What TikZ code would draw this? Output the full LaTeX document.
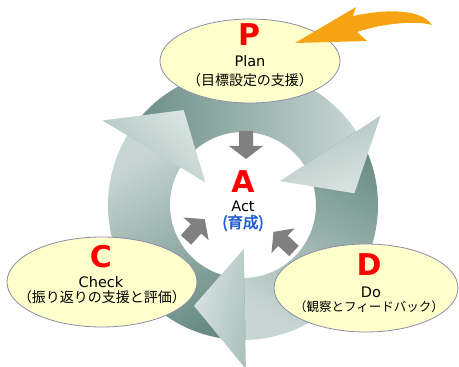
\documentclass[tikz,border=0pt]{standalone}
\usepackage{fontspec}
\setmainfont{DejaVu Sans}
\newfontfamily\jp{Noto Sans CJK JP}
\newfontfamily\jpbold[FakeBold=2.5]{Noto Sans CJK JP}
\usetikzlibrary{shapes.geometric}

\definecolor{ringdark}{RGB}{104,140,131}
\definecolor{ringlight}{RGB}{200,214,211}
\definecolor{headdark}{RGB}{172,194,189}
\definecolor{headlight}{RGB}{218,228,225}
\definecolor{arrowgray}{RGB}{128,128,128}
\definecolor{ellfill}{RGB}{255,255,204}
\definecolor{elledge}{RGB}{140,140,170}
\definecolor{swoosh}{RGB}{247,164,20}
\definecolor{actblue}{RGB}{30,90,210}

\tikzset{
  phase/.style={ellipse, draw=elledge, fill=ellfill, line width=0.8pt, inner sep=0pt},
  letter/.style={text=red, inner sep=1pt, font=\fontsize{30}{30}\selectfont\bfseries},
  eng/.style={inner sep=1pt, font=\fontsize{14.5}{16}\selectfont},
  jtext/.style={inner sep=1pt, font=\jp\fontsize{14}{16}\selectfont},
  inarrow/.pic={
    \fill[arrowgray] (0,-7) -- (15,-7) -- (15,-17) -- (28,0) -- (15,17)
      -- (15,7) -- (0,7) -- cycle;
  }
}

\begin{document}
\begin{tikzpicture}[x=1pt,y=1pt]
  \useasboundingbox (0,0) rectangle (459,367);

  % ring bands
  \begin{scope}[shift={(243,162)}]
    \foreach \s/\e/\sa in {149/33/-90, 33/-89/152, -89/-211/30}
      \shade[top color=ringlight, middle color=ringdark!75!ringlight,
             bottom color=ringdark, shading angle=\sa]
        (\s:135) arc[start angle=\s, end angle=\e, radius=135]
        -- (\e:73) arc[start angle=\e, end angle=\s, radius=73] -- cycle;
  \end{scope}

  % arrows into Act
  \pic[rotate=-90] at (246,236) {inarrow};
  \pic[rotate=48]  at (186,127) {inarrow};
  \pic[rotate=137] at (294,116) {inarrow};

  % arrow heads of the ring
  \begin{scope}[shift={(243,162)}]
    \foreach \b/\sa in {149/-44, 33/-160, -89/78}
      \shade[top color=headlight, bottom color=headdark, shading angle=\sa]
        (\b:44) -- (\b:164) -- ({\b-27}:112) -- cycle;
  \end{scope}

  % Act
  \node[letter] (actA) at (243,185) {A};
  \node[eng] (actEn) at (243,161) {Act};
  \node[text=actblue, inner sep=1pt, font=\jpbold\fontsize{15.5}{16}\selectfont] (actJa) at (243,144) {(育成)};

  % Plan
  \node[phase, minimum width=180pt, minimum height=84pt] (plan) at (250,306) {};
  \node[letter] (planP) at (249,332) {P};
  \node[eng] (planEn) at (250,306) {Plan};
  \node[jtext] (planJa) at (250,287) {（目標設定の支援）};

  % Check
  \node[phase, minimum width=190pt, minimum height=90pt] (check) at (102,85) {};
  \node[letter] (checkC) at (101,110) {C};
  \node[eng] (checkEn) at (101,85) {Check};
  \node[jtext] (checkJa) at (102,70) {（振り返りの支援と評価）};

  % Do
  \node[phase, minimum width=184pt, minimum height=88pt] (do) at (366,79) {};
  \node[letter] (doD) at (369,102) {D};
  \node[eng] (doEn) at (371,75) {Do};
  \node[jtext, font=\jp\fontsize{12.5}{14}\selectfont] (doJa) at (369,60) {（観察とフィードバック）};

  % orange arrow into Plan
  \fill[swoosh] (295,324) -- (356,360) -- (353,351)
    .. controls (380,357) and (420,360) .. (432,342)
    .. controls (415,347) and (380,343) .. (357,335)
    -- (367,326) -- cycle;
\end{tikzpicture}
\end{document}
